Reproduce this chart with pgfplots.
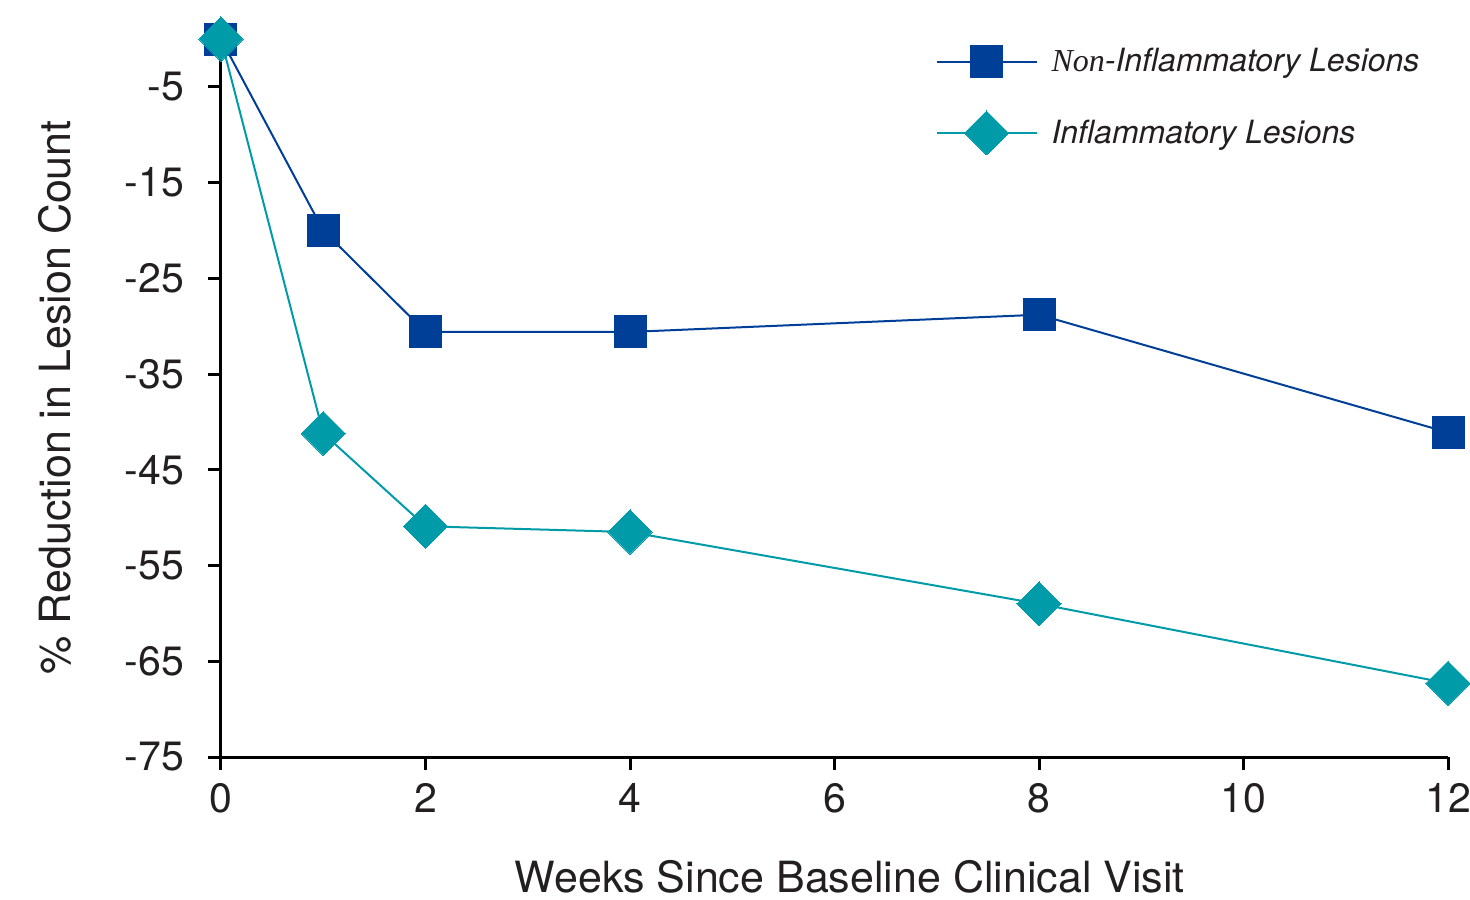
\documentclass[border=0pt]{standalone}
\usepackage{fontspec}
\setmainfont{TeX Gyre Heros}
\newfontfamily\serifit{Liberation Serif}
\usepackage{pgfplots}
\pgfplotsset{compat=1.18}

\definecolor{darkblue}{RGB}{0,63,152}
\definecolor{teal}{RGB}{0,155,169}
\definecolor{txt}{RGB}{35,31,32}

\begin{document}
\begin{tikzpicture}
\begin{axis}[
    at={(0,0)}, anchor=south west,
    scale only axis,
    width=613.5pt, height=359pt,
    xmin=0, xmax=12, ymin=-75, ymax=0,
    clip=false,
    axis lines*=left,
    axis line style={line width=1.5pt, black},
    tick align=outside,
    major tick length=6.5pt,
    tick style={line width=1.5pt, black},
    xtick={0,2,4,6,8,10,12},
    ytick={-75,-65,-55,-45,-35,-25,-15,-5},
    /pgf/number format/assume math mode=true,
    ticklabel style={font=\fontsize{20.5}{24}\selectfont, text=txt},
    yticklabel style={xshift=-8.5pt},
    xticklabel style={yshift=-3pt},
    xlabel={Weeks Since Baseline Clinical Visit},
    ylabel={\% Reduction in Lesion Count},
    label style={font=\fontsize{21.5}{26}\selectfont, text=txt},
    xlabel style={at={(axis description cs:0.5126,-0.167)}, anchor=center},
    ylabel style={at={(axis description cs:-0.1353,0.501)}, anchor=center, rotate=0},
    legend style={at={(rel axis cs:0.582,0.993)}, anchor=north west, draw=none, fill=none,
        font=\fontsize{16}{19}\selectfont\itshape, text=txt,
        row sep=16pt, inner sep=0pt},
    legend cell align=left,
    legend image code/.code={%
        \draw[mark repeat=2,mark phase=2] plot coordinates {(0pt,0pt) (25pt,0pt) (50pt,0pt)};},
]
\addplot[color=darkblue, line width=1pt, mark=square*,
    mark options={solid, fill=darkblue, draw=darkblue, line width=0pt}, mark size=8pt]
coordinates {
    (0,0) (1,-20) (2,-30.6) (4,-30.6) (8,-28.8) (12,-41.1)
};
\addlegendentry{\hspace*{5pt}{\serifit Non}-Inflammatory Lesions}
\addplot[color=teal, line width=1pt, mark=square*,
    mark options={solid, fill=teal, draw=teal, line width=0pt, rotate=45}, mark size=7.8pt]
coordinates {
    (0,0) (1,-41.2) (2,-50.9) (4,-51.5) (8,-59) (12,-67.3)
};
\addlegendentry{\hspace*{5pt}Inflammatory Lesions}
\end{axis}
\pgfresetboundingbox
\path[use as bounding box] (-110.5pt,-71pt) rectangle (624.5pt,378.5pt);
\end{tikzpicture}
\end{document}
